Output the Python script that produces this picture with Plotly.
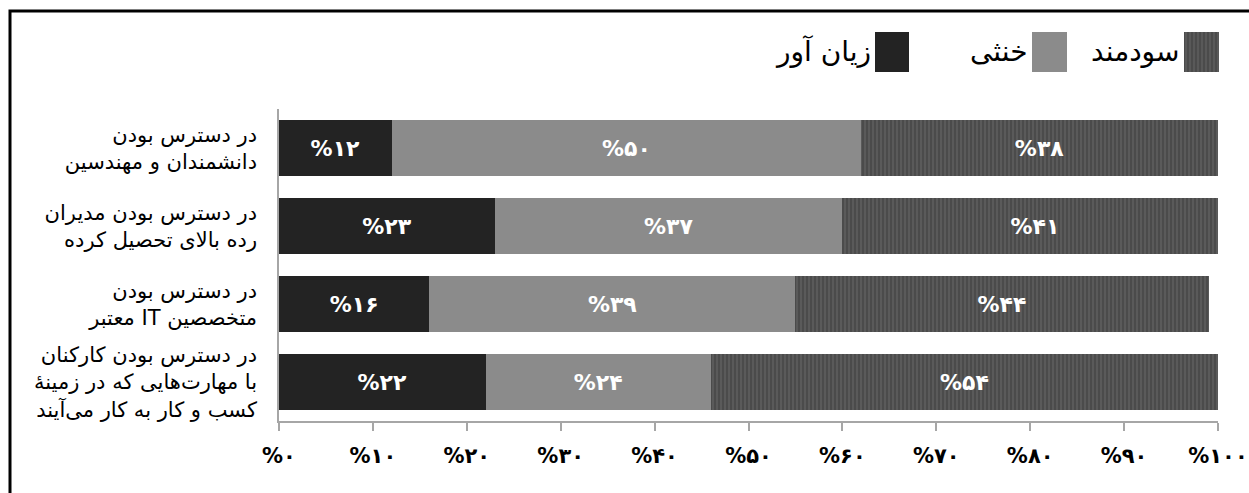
import plotly.graph_objects as go

# --- data -------------------------------------------------------------
categories = [
    "در دسترس بودن<br>دانشمندان و مهندسین",
    "در دسترس بودن مدیران<br>رده بالای تحصیل کرده",
    "در دسترس بودن<br>متخصصین IT معتبر",
    "در دسترس بودن کارکنان<br>با مهارت‌هایی که در زمینهٔ<br>کسب و کار به کار می‌آیند",
]
series_names = ["زیان آور", "خنثی", "سودمند"]
harmful = [12, 23, 16, 22]
neutral = [50, 37, 39, 24]
useful = [38, 41, 44, 54]
tick_values = [0, 10, 20, 30, 40, 50, 60, 70, 80, 90, 100]

# --- helpers ----------------------------------------------------------
PERSIAN_DIGITS = str.maketrans("0123456789", "۰۱۲۳۴۵۶۷۸۹")


def fa_pct(v):
    return "%" + str(v).translate(PERSIAN_DIGITS)


def rtl(s):
    # embed every line right-to-left so mixed Latin words sit correctly
    return "<br>".join("\u202b" + line + "\u202c" for line in s.split("<br>"))


labels = [rtl(c) for c in categories]
names = [rtl(n) for n in series_names]

FONT = "DejaVu Sans"
W, H = 1249, 493
L, R, T, B = 279, 31, 109, 72
PW, PH = W - L - R, H - T - B


def px_x(px):
    return (px - L) / PW


def px_y(py):
    return (H - B - py) / PH


fills = ["#232323", "#8b8b8b", "#4b4b4b"]
stripe = "#5e5e5e"
values = [harmful, neutral, useful]

fig = go.Figure()
for i, (name, vals) in enumerate(zip(names, values)):
    marker = dict(color=fills[i], line=dict(width=0))
    if i == 2:
        marker["pattern"] = dict(shape="|", fgcolor=stripe, bgcolor=fills[i],
                                 size=4, solidity=0.4, fillmode="replace")
    fig.add_trace(go.Bar(
        y=labels, x=vals, name=name, orientation="h",
        marker=marker,
        text=[fa_pct(v) for v in vals],
        textposition="inside", insidetextanchor="middle", textangle=0,
        textfont=dict(family=FONT, size=22, color="white", weight="bold"),
        hoverinfo="skip", showlegend=False,
    ))

fig.update_layout(
    width=W, height=H,
    margin=dict(l=L, r=R, t=T, b=B, pad=0, autoexpand=False),
    barmode="stack", bargap=0.29,
    paper_bgcolor="white", plot_bgcolor="white",
    uniformtext=dict(mode="show", minsize=22),
    font=dict(family=FONT, color="black"),
)
fig.update_xaxes(
    range=[0, 100], tickvals=tick_values,
    ticktext=[fa_pct(v) for v in tick_values],
    showgrid=False, zeroline=False, automargin=False,
    showline=True, linecolor="#a6a6a6", linewidth=1.5,
    ticks="outside", ticklen=8, tickcolor="#a6a6a6", tickwidth=1.5,
    ticklabelstandoff=7,
    tickfont=dict(family=FONT, size=21, color="black", weight="bold"),
)
fig.update_yaxes(
    categoryorder="array", categoryarray=labels, autorange="reversed",
    showgrid=False, zeroline=False, automargin=False,
    showline=True, linecolor="#a6a6a6", linewidth=1.5,
    ticks="", ticklabelstandoff=16,
    tickfont=dict(family=FONT, size=21, color="black"),
)

# outer frame
fig.add_shape(type="rect", xref="paper", yref="paper",
              x0=px_x(10), x1=px_x(1262), y0=px_y(11), y1=px_y(505),
              line=dict(color="black", width=3), fillcolor="rgba(0,0,0,0)",
              layer="below")

# legend: text on the left, swatch on the right
legend_swatches = [(875, 909), (1032, 1067), (1184, 1219)]
for i, ((sx0, sx1), name, col) in enumerate(zip(legend_swatches, names, fills)):
    fig.add_shape(type="rect", xref="paper", yref="paper",
                  x0=px_x(sx0), x1=px_x(sx1), y0=px_y(72), y1=px_y(32),
                  fillcolor=col, line=dict(width=0))
    if i == 2:
        # vertical hatching inside the striped swatch
        for sx in range(sx0 + 2, sx1, 4):
            fig.add_shape(type="line", xref="paper", yref="paper",
                          x0=px_x(sx), x1=px_x(sx), y0=px_y(72), y1=px_y(32),
                          line=dict(color=stripe, width=1.5))
    fig.add_annotation(xref="paper", yref="paper", x=px_x(sx0 - 2), y=px_y(52),
                       text=name, showarrow=False, xanchor="right", yanchor="middle",
                       font=dict(family=FONT, size=28, color="black"))

fig.write_html("out.html")
